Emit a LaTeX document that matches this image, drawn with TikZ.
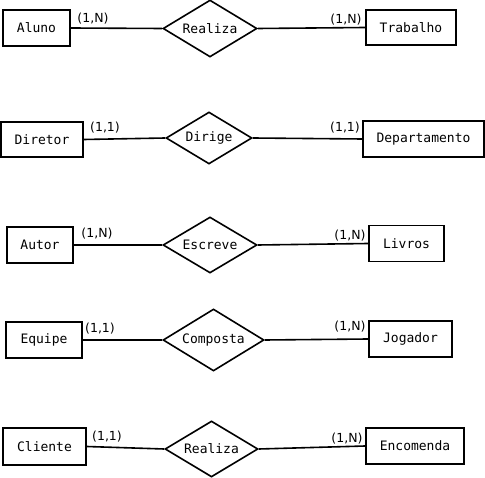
\documentclass[tikz,border=0pt]{standalone}
\usepackage{fontspec}
\usetikzlibrary{shapes.geometric}
\newfontfamily\monof{DejaVu Sans Mono}
\newfontfamily\sansf{DejaVu Sans}
\begin{document}
\begin{tikzpicture}[x=1pt,y=-1pt,
  entity/.style={draw,line width=1.6pt,rectangle,inner sep=0pt,
    font=\monof\fontsize{13}{15}\selectfont},
  rel/.style={draw,line width=1.6pt,diamond,aspect=1.7,inner sep=0pt,
    font=\monof\fontsize{13}{15}\selectfont},
  card/.style={inner sep=0pt,font=\sansf\fontsize{12.5}{14}\selectfont},
  conn/.style={line width=1.6pt}]
\useasboundingbox (0,0) rectangle (485,478);
% row 1
\node[entity,minimum width=67pt,minimum height=36pt] (aluno) at (36.5,28) {Aluno};
\node[rel,minimum width=94pt,minimum height=57pt] (realiza1) at (210,28.5) {Realiza};
\node[entity,minimum width=90pt,minimum height=35pt] (trabalho) at (411,27.5) {Trabalho};
\draw[conn] (aluno.east) -- (realiza1.west);
\draw[conn] (realiza1.east) -- (trabalho.west);
\node[card] (c1l) at (93,19) {(1,N)};
\node[card] (c1r) at (346,20) {(1,N)};
% row 2
\node[entity,minimum width=82pt,minimum height=35pt] (diretor) at (42,139.5) {Diretor};
\node[rel,minimum width=86pt,minimum height=52pt] (dirige) at (209,138) {Dirige};
\node[entity,minimum width=121pt,minimum height=36pt] (depto) at (423.5,139) {Departamento};
\draw[conn] (diretor.east) -- (dirige.west);
\draw[conn] (dirige.east) -- (depto.west);
\node[card] (c2l) at (105,128) {(1,1)};
\node[card] (c2r) at (345,128) {(1,1)};
% row 3
\node[entity,minimum width=66pt,minimum height=36pt] (autor) at (40,245) {Autor};
\node[rel,minimum width=94pt,minimum height=56pt] (escreve) at (210,245) {Escreve};
\node[entity,minimum width=75pt,minimum height=36pt] (livros) at (406.5,243.5) {Livros};
\draw[conn] (autor.east) -- (escreve.west);
\draw[conn] (escreve.east) -- (livros.west);
\node[card] (c3l) at (97,234) {(1,N)};
\node[card] (c3r) at (350,236) {(1,N)};
% row 4
\node[entity,minimum width=76pt,minimum height=36pt] (equipe) at (44,340) {Equipe};
\node[rel,minimum width=101pt,minimum height=62pt] (composta) at (213.5,340) {Composta};
\node[entity,minimum width=83pt,minimum height=36pt] (jogador) at (410.5,339) {Jogador};
\draw[conn] (equipe.east) -- (composta.west);
\draw[conn] (composta.east) -- (jogador.west);
\node[card] (c4l) at (100,329) {(1,1)};
\node[card] (c4r) at (350,327) {(1,N)};
% row 5
\node[entity,minimum width=83pt,minimum height=37pt] (cliente) at (44.5,446.5) {Cliente};
\node[rel,minimum width=93pt,minimum height=56pt] (realiza2) at (211.5,449) {Realiza};
\node[entity,minimum width=98pt,minimum height=36pt] (encomenda) at (415,446) {Encomenda};
\draw[conn] (cliente.east) -- (realiza2.west);
\draw[conn] (realiza2.east) -- (encomenda.west);
\node[card] (c5l) at (107,437) {(1,1)};
\node[card] (c5r) at (347,439) {(1,N)};
\end{tikzpicture}
\end{document}
